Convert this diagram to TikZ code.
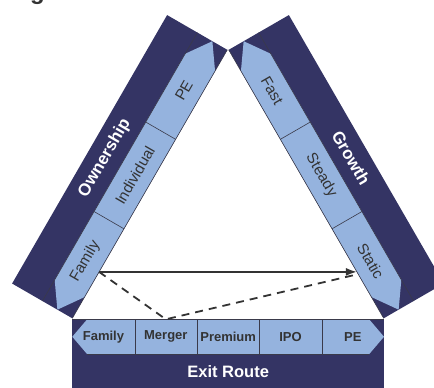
\documentclass[tikz,border=0pt]{standalone}
\usepackage{fontspec}
\setmainfont{Liberation Sans}
\usetikzlibrary{arrows.meta}
\definecolor{cnavy}{HTML}{343464}
\definecolor{clight}{HTML}{95B3DE}
\definecolor{ctext}{HTML}{333333}
\definecolor{crule}{HTML}{3A3A4A}

\tikzset{
  armlabel/.style={text=ctext, font=\fontsize{15.2}{15.2}\selectfont, inner sep=0pt},
  bandlabel/.style={text=white, font=\fontsize{17}{17}\selectfont\bfseries, inner sep=0pt},
  cell/.style={text=ctext, font=\fontsize{13}{13}\selectfont\bfseries,
    minimum width=62.34pt, minimum height=34.5pt, inner sep=0pt},
  divider/.style={crule, line width=0.6pt},
  link/.style={ctext, line width=1.8pt},
}

\begin{document}
\begin{tikzpicture}[x=1pt, y=1pt, line join=round]
  \def\L{310}  % arm length
  \def\W{69.5} % arm width
  \def\s{34.5} % strip width
  \def\h{24.5} % head of the strip
  \clip (0,0) rectangle (434,388);
  % title (cut off at the top)
  \node[anchor=base west, inner sep=0pt, text=ctext,
        font=\fontsize{24}{24}\selectfont\bfseries] (title) at (30,388.5) {g};
  % ownership arm
  \begin{scope}[shift={(72.3,69.7)}, rotate=60]
    \fill[cnavy] (0,0) rectangle (\L,\W);
    \fill[clight] (0,\s/2) -- (\h,0) -- (\L-\h,0) -- (\L,\s/2) -- (\L-\h,\s) -- (\h,\s) -- cycle;
    \draw[divider] (0,\s) -- (\L,\s);
    \draw[divider] (0,0) -- (\L,0);
    \draw[divider] (\L/3,0) -- (\L/3,\s);
    \draw[divider] (2*\L/3,0) -- (2*\L/3,\s);
    \node[armlabel, rotate=60] (ofamily) at (56,\s/2) {Family};
    \node[armlabel, rotate=60] (oindiv) at (155,\s/2) {Individual};
    \node[armlabel, rotate=60] (ope) at (253,\s/2) {PE};
    \node[bandlabel, rotate=60] (owner) at (155,52) {Ownership};
    \coordinate (ownstart) at (53.6,0);
  \end{scope}
  % growth arm
  \begin{scope}[shift={(383.7,69.7)}, rotate=120, yscale=-1]
    \fill[cnavy] (0,0) rectangle (\L,\W);
    \fill[clight] (0,\s/2) -- (\h,0) -- (\L-\h,0) -- (\L,\s/2) -- (\L-\h,\s) -- (\h,\s) -- cycle;
    \draw[divider] (0,\s) -- (\L,\s);
    \draw[divider] (0,0) -- (\L,0);
    \draw[divider] (\L/3,0) -- (\L/3,\s);
    \draw[divider] (2*\L/3,0) -- (2*\L/3,\s);
    \node[armlabel, rotate=-60] (gstatic) at (56,\s/2) {Static};
    \node[armlabel, rotate=-60] (gsteady) at (155,\s/2) {Steady};
    \node[armlabel, rotate=-60] (gfast) at (253,\s/2) {Fast};
    \node[bandlabel, rotate=-60] (growth) at (155,52) {Growth};
    \coordinate (growend) at (53.6,0);
    \coordinate (growdash) at (51,0);
  \end{scope}
  % exit route bar
  \fill[cnavy] (72.3,0) rectangle (384,68.5);
  \fill[clight] (72.3,51.25) -- (87,68.5) -- (369.3,68.5) -- (384,51.25) -- (369.3,34) -- (87,34) -- cycle;
  \draw[divider] (72.3,68.5) -- (384,68.5);
  \draw[divider] (87,34) -- (369.3,34);
  \foreach \name/\lab [count=\i] in {efamily/Family,emerger/Merger,epremium/Premium,eipo/IPO,epe/PE}
    \node[cell] (\name) at ({72.3+62.34*(\i-0.5)},51.25) {\lab};
  \foreach \name in {efamily,emerger,epremium,eipo}
    \draw[divider] (\name.north east) -- (\name.south east);
  \node[bandlabel, font=\fontsize{16.5}{16.5}\selectfont\bfseries] (exit) at (228.2,16) {Exit Route};
  % links
  \draw[link, -{Latex[length=11pt, width=8pt]}] (ownstart) -- (growend);
  \draw[link, dash pattern=on 8pt off 6pt] (ownstart) -- (emerger.north) -- (growdash);
\end{tikzpicture}
\end{document}
